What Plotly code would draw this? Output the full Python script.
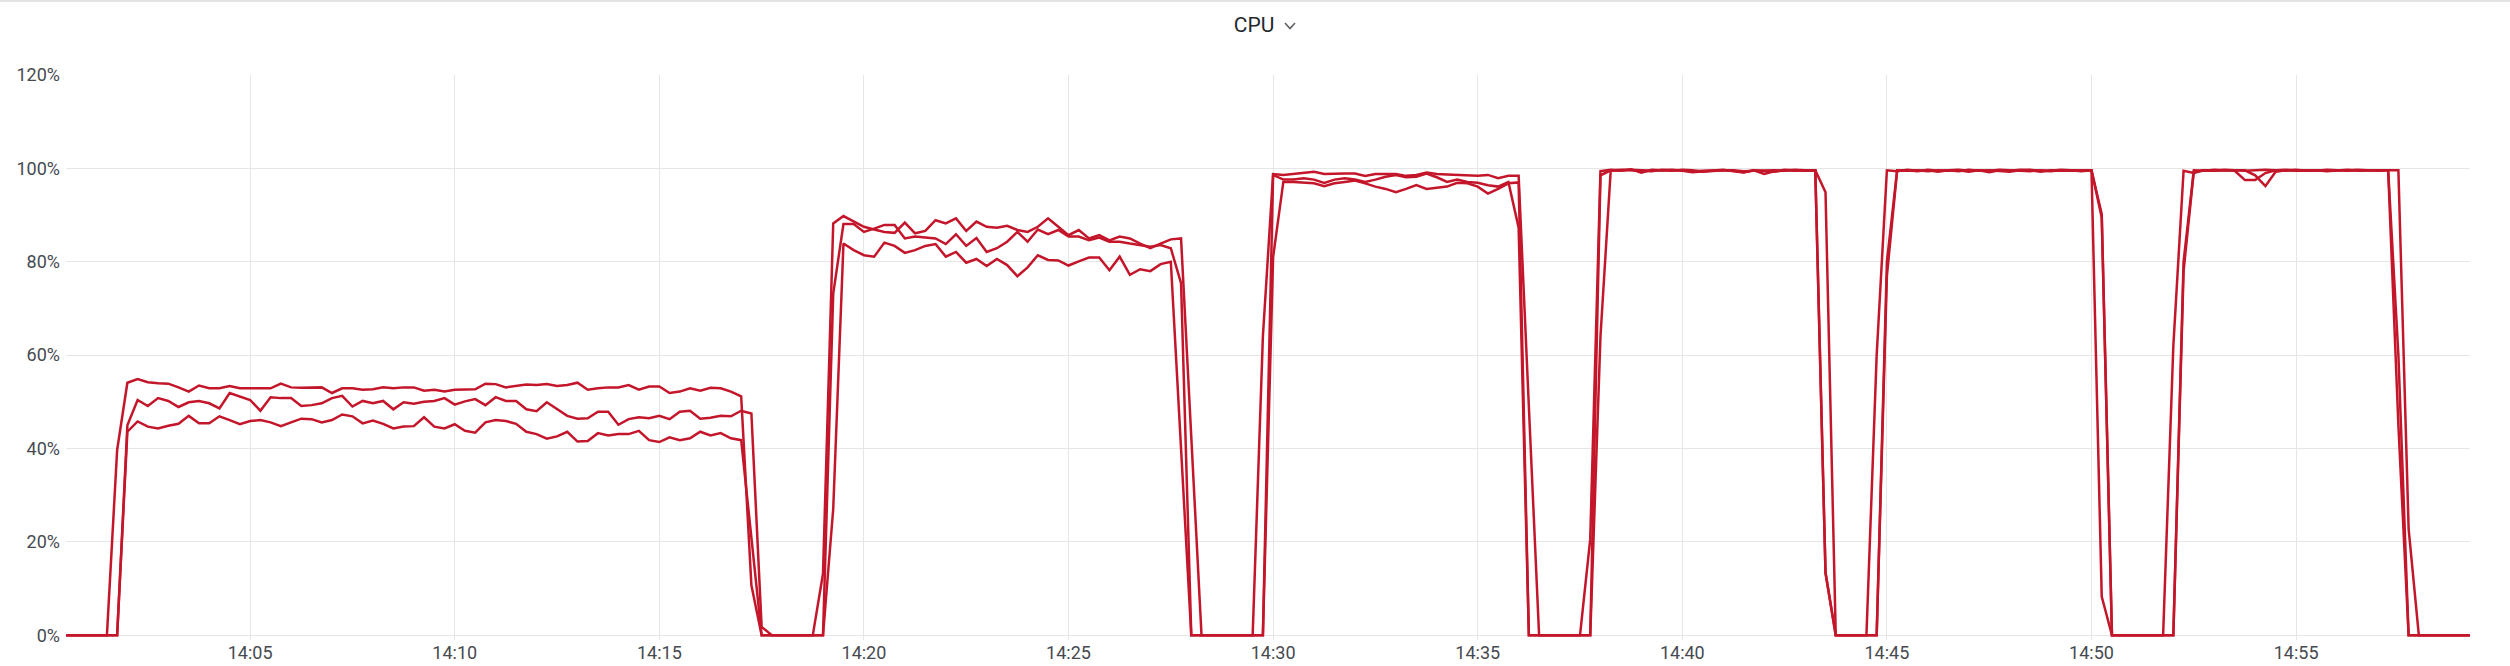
"""CPU usage panel: three hosts sampled every 15 s."""

import pandas as pd
import plotly.graph_objs as go

# sample times (15 s resolution)
start_time = "2024-01-01 14:00:30"
n_samples = 236
sample_step = "15s"

# CPU usage in percent, one list per host
cpu_a = [
    0, 0, 0, 0, 0, 39.7,
    54.1, 54.9, 54.2, 54.0, 53.9, 53.1, 52.2, 53.5, 52.9, 52.9, 53.4, 52.9, 52.9, 52.8,
    52.9, 53.9, 53.1, 53.0, 53.1, 53.1, 51.9, 52.9, 52.9, 52.6, 52.7, 53.1, 52.9, 53.1,
    53.1, 52.4, 52.6, 52.2, 52.6, 52.6, 52.7, 53.9, 53.8, 53.1, 53.4, 53.7, 53.6, 53.8,
    53.4, 53.6, 54.1, 52.6, 52.9, 53.1, 53.1, 53.6, 52.6, 53.3, 53.3, 51.9, 52.2, 52.9,
    52.4, 53.0, 52.9, 52.2, 51.2,
    10.7, 0, 0, 0, 0, 0, 0,
    0, 73.2, 88.1, 88.1, 86.4, 87.1, 87.9, 87.9, 85.0, 85.4, 85.2, 85.0, 83.8, 85.9,
    83.4, 85.1, 82.1, 82.9, 84.3, 86.4, 84.3, 86.9, 85.9, 86.8, 85.4, 85.4, 84.6, 85.2,
    84.3, 84.3, 83.9, 83.6, 83.2, 83.6, 82.9, 75.4, 0,
    0, 0, 0, 0, 0, 0,
    64, 98.8, 98.6, 98.8, 99.1, 99.3, 98.8, 98.9, 98.9, 98.9, 98.4, 98.8, 98.8, 98.8,
    98.4, 98.6, 99.1, 98.8, 98.7, 98.6, 98.5, 98.4, 98.6, 97.9, 98.4, 98.4,
    49, 0, 0, 0, 0, 0, 20.6,
    99.4, 99.7, 99.6, 99.8, 99.1, 99.7, 99.6, 99.7, 99.6, 99.4, 99.5, 99.6, 99.6, 99.5,
    99.2, 99.6, 99.5, 99.3, 99.6, 99.5, 99.6, 99.6,
    94.9, 0, 0, 0, 0, 60,
    99.6, 99.4, 99.7, 99.5, 99.6, 99.3, 99.6, 99.7, 99.5, 99.6, 99.2, 99.6, 99.5, 99.7,
    99.6, 99.3, 99.6, 99.5, 99.6, 99.4, 99.6,
    90.2, 0, 0, 0, 0, 0, 0, 62,
    99.5, 99.0, 99.6, 99.5, 99.6, 99.5, 97.5, 97.5, 99.0, 99.6, 99.7, 99.5, 99.6, 99.6,
    99.4, 99.6, 99.7, 99.5, 99.6, 99.6, 99.6,
    45, 0, 0, 0, 0, 0, 0, 0,
]

cpu_b = [
    0, 0, 0, 0, 0, 0, 45.0,
    50.4, 49.1, 50.8, 50.2, 48.9, 49.9, 50.2, 49.7, 48.6, 51.9, 51.1, 50.4, 48.1, 51.0,
    50.8, 50.8, 49.1, 49.3, 49.7, 50.8, 51.3, 49.0, 50.2, 49.7, 50.2, 48.4, 49.9, 49.6,
    50.0, 50.2, 50.8, 49.4, 50.1, 50.6, 49.3, 51.0, 50.2, 50.2, 48.4, 48.0, 49.9, 48.4,
    47.0, 46.4, 46.5, 47.9, 47.9, 45.1, 46.3, 46.7, 46.5, 47.0, 46.3, 47.9, 48.1, 46.4,
    46.6, 47.0, 46.9, 48.1, 47.5,
    1.8, 0, 0, 0, 0, 0,
    13.2, 88.2, 89.8,
    88.6, 87.5, 86.9, 86.4, 86.2, 88.4, 86.1, 86.6, 88.9, 88.2, 89.3, 86.6, 88.6, 87.5,
    87.3, 87.7, 86.8, 86.4, 87.5, 89.3, 87.5, 85.7, 86.8, 85.0, 85.7, 84.6, 85.4, 85.0,
    83.9, 82.9, 83.9, 84.8, 85.0,
    42.5, 0, 0, 0, 0, 0, 0, 0,
    98.6,
    97.6, 97.6, 97.9, 97.6, 96.9, 97.6, 97.9, 97.6, 97.1, 97.6, 98.2, 98.6, 98.1, 98.2,
    98.9, 98.1, 97.1, 97.6, 97.1, 96.9, 96.4, 96.1, 97.1, 87.3,
    0, 0, 0, 0, 0, 0, 0, 64,
    99.5, 99.7, 99.6, 99.5, 99.4, 99.7, 99.6, 99.5, 99.2, 99.4, 99.6, 99.7, 99.4, 99.1,
    99.6, 98.8, 99.4, 99.7, 99.6, 99.5, 99.6,
    13.4, 0, 0, 0, 0, 0, 77,
    99.5, 99.6, 99.4, 99.7, 99.5, 99.6, 99.4, 99.7, 99.5, 99.6, 99.5, 99.3, 99.6, 99.7,
    99.5, 99.4, 99.6, 99.5, 99.6, 99.6,
    8.3, 0, 0, 0, 0, 0, 0, 0, 80,
    99.6, 99.5, 99.7, 99.6, 99.6, 99.6, 98.5, 96.2, 99.3, 99.6, 99.7, 99.5, 99.6, 99.6,
    99.5, 99.6, 99.7, 99.6, 99.5, 99.6, 99.6,
    22.8, 0, 0, 0, 0, 0, 0,
]

cpu_c = [
    0, 0, 0, 0, 0, 0,
    43.6, 45.8, 44.7, 44.3, 44.9, 45.3, 47.0, 45.4, 45.4, 46.9, 46.1, 45.2, 45.9, 46.1,
    45.6, 44.8, 45.6, 46.4, 46.3, 45.6, 46.1, 47.3, 46.9, 45.4, 46.0, 45.3, 44.3, 44.7,
    44.8, 46.7, 44.7, 44.3, 45.2, 43.8, 43.4, 45.6, 46.1, 45.9, 45.3, 43.6, 43.1, 42.1,
    42.6, 43.6, 41.5, 41.6, 43.3, 42.8, 43.1, 43.1, 43.8, 41.8, 41.4, 42.4, 41.8, 42.2,
    43.6, 42.8, 43.3, 42.2, 41.8,
    21, 0, 0, 0, 0, 0, 0, 0, 27.1,
    83.9, 82.5, 81.4, 81.1, 84.1, 83.4, 81.9, 82.5, 83.4, 83.8, 81.1, 82.1, 79.8, 80.6,
    79.1, 80.6, 79.3, 76.9, 78.8, 81.4, 80.4, 80.3, 79.2, 80.1, 80.9, 80.9, 78.2, 81.1,
    77.2, 78.4, 78.0, 79.5, 80.0,
    40, 0, 0, 0, 0, 0, 0, 0, 0, 81,
    97.1, 97.1, 96.9, 96.8, 96.2, 96.8, 97.1, 97.4, 96.8, 96.1, 95.6, 94.9, 95.6, 96.4,
    95.6, 95.8, 96.1, 96.9, 96.8, 96.1, 94.6, 95.6, 96.8, 97.0,
    0, 0, 0, 0, 0, 0, 0, 98.5,
    99.6, 99.5, 99.7, 99.6, 99.5, 99.6, 99.5, 99.7, 99.6, 99.3, 99.5, 99.6, 99.6, 99.4,
    99.5, 99.6, 99.6, 99.5, 99.7, 99.6, 99.5,
    13.4, 0, 0, 0, 0, 0, 80,
    99.6, 99.5, 99.6, 99.4, 99.6, 99.5, 99.6, 99.3, 99.6, 99.5, 99.7, 99.6, 99.5, 99.4,
    99.6, 99.5, 99.7, 99.6, 99.5, 99.6,
    89.5, 0, 0, 0, 0, 0, 0, 0, 78,
    99.3, 99.6, 99.5, 99.7, 99.6, 99.5, 99.6, 99.7, 99.6, 99.5, 99.6, 99.6, 99.5, 99.7,
    99.6, 99.5, 99.6, 99.6, 99.5, 99.6,
    60, 0, 0, 0, 0, 0, 0, 0,
]

y_ticks = [0, 20, 40, 60, 80, 100, 120]

times = pd.date_range(start_time, periods=n_samples, freq=sample_step)

LINE_COLOR = "#c4162a"
GRID_COLOR = "#e6e6e6"
TEXT_COLOR = "#464a50"

# page size; the body margin is removed so figure pixels are page pixels
W, H = 2510, 666

# plot area edges in pixels
PLOT_LEFT, PLOT_RIGHT = 66, 2470
PLOT_TOP, PLOT_BOTTOM = 75, 640
M_L, M_T = PLOT_LEFT, PLOT_TOP
M_R, M_B = W - PLOT_RIGHT, H - PLOT_BOTTOM
plot_w = PLOT_RIGHT - PLOT_LEFT
plot_h = PLOT_BOTTOM - PLOT_TOP


def px_to_paper(px, py):
    """Convert figure pixel coordinates to paper coordinates."""
    return (px - PLOT_LEFT) / plot_w, (PLOT_BOTTOM - py) / plot_h


fig = go.Figure()
for series in (cpu_a, cpu_b, cpu_c):
    fig.add_trace(go.Scatter(
        x=times, y=series,
        mode="lines",
        line=dict(color=LINE_COLOR, width=2.5),
        showlegend=False,
        hoverinfo="skip",
    ))

# small chevron next to the panel title, and the panel's top border
c1 = px_to_paper(1285, 23)
c2 = px_to_paper(1290, 28.5)
c3 = px_to_paper(1295, 23)
b1 = px_to_paper(0, 1)
b2 = px_to_paper(W, 1)
shapes = [
    dict(type="path", xref="paper", yref="paper",
         path=f"M {c1[0]} {c1[1]} L {c2[0]} {c2[1]} L {c3[0]} {c3[1]}",
         line=dict(color="#5c5f63", width=1.6)),
    dict(type="line", xref="paper", yref="paper",
         x0=b1[0], y0=b1[1], x1=b2[0], y1=b2[1],
         line=dict(color="#e3e3e3", width=2)),
]

fig.update_layout(
    width=W, height=H,
    margin=dict(l=M_L, r=M_R, t=M_T, b=M_B, pad=0),
    paper_bgcolor="white",
    plot_bgcolor="white",
    font=dict(family="Roboto, sans-serif", size=18, color=TEXT_COLOR),
    title=dict(text="CPU", x=1254 / W, xref="container", xanchor="center",
               y=1 - 25 / H, yanchor="middle",
               font=dict(size=21, color="#24292e")),
    shapes=shapes,
    xaxis=dict(
        range=[times[0], times[-1]],
        tickformat="%H:%M",
        dtick=300000,
        tick0="2024-01-01 14:00:00",
        showgrid=True, gridcolor=GRID_COLOR, gridwidth=1,
        zeroline=False, showline=False, ticks="",
        automargin=False,
    ),
    yaxis=dict(
        range=[-1, 120],
        tickvals=y_ticks,
        ticktext=[f"{v}%" for v in y_ticks],
        showgrid=True, gridcolor=GRID_COLOR, gridwidth=1,
        zeroline=False, showline=False, ticks="",
        ticklabelstandoff=5,
        automargin=False,
    ),
)

fig.write_html(
    "out.html",
    config=dict(displayModeBar=False),
    post_script="document.body.style.margin = '0';",
)
